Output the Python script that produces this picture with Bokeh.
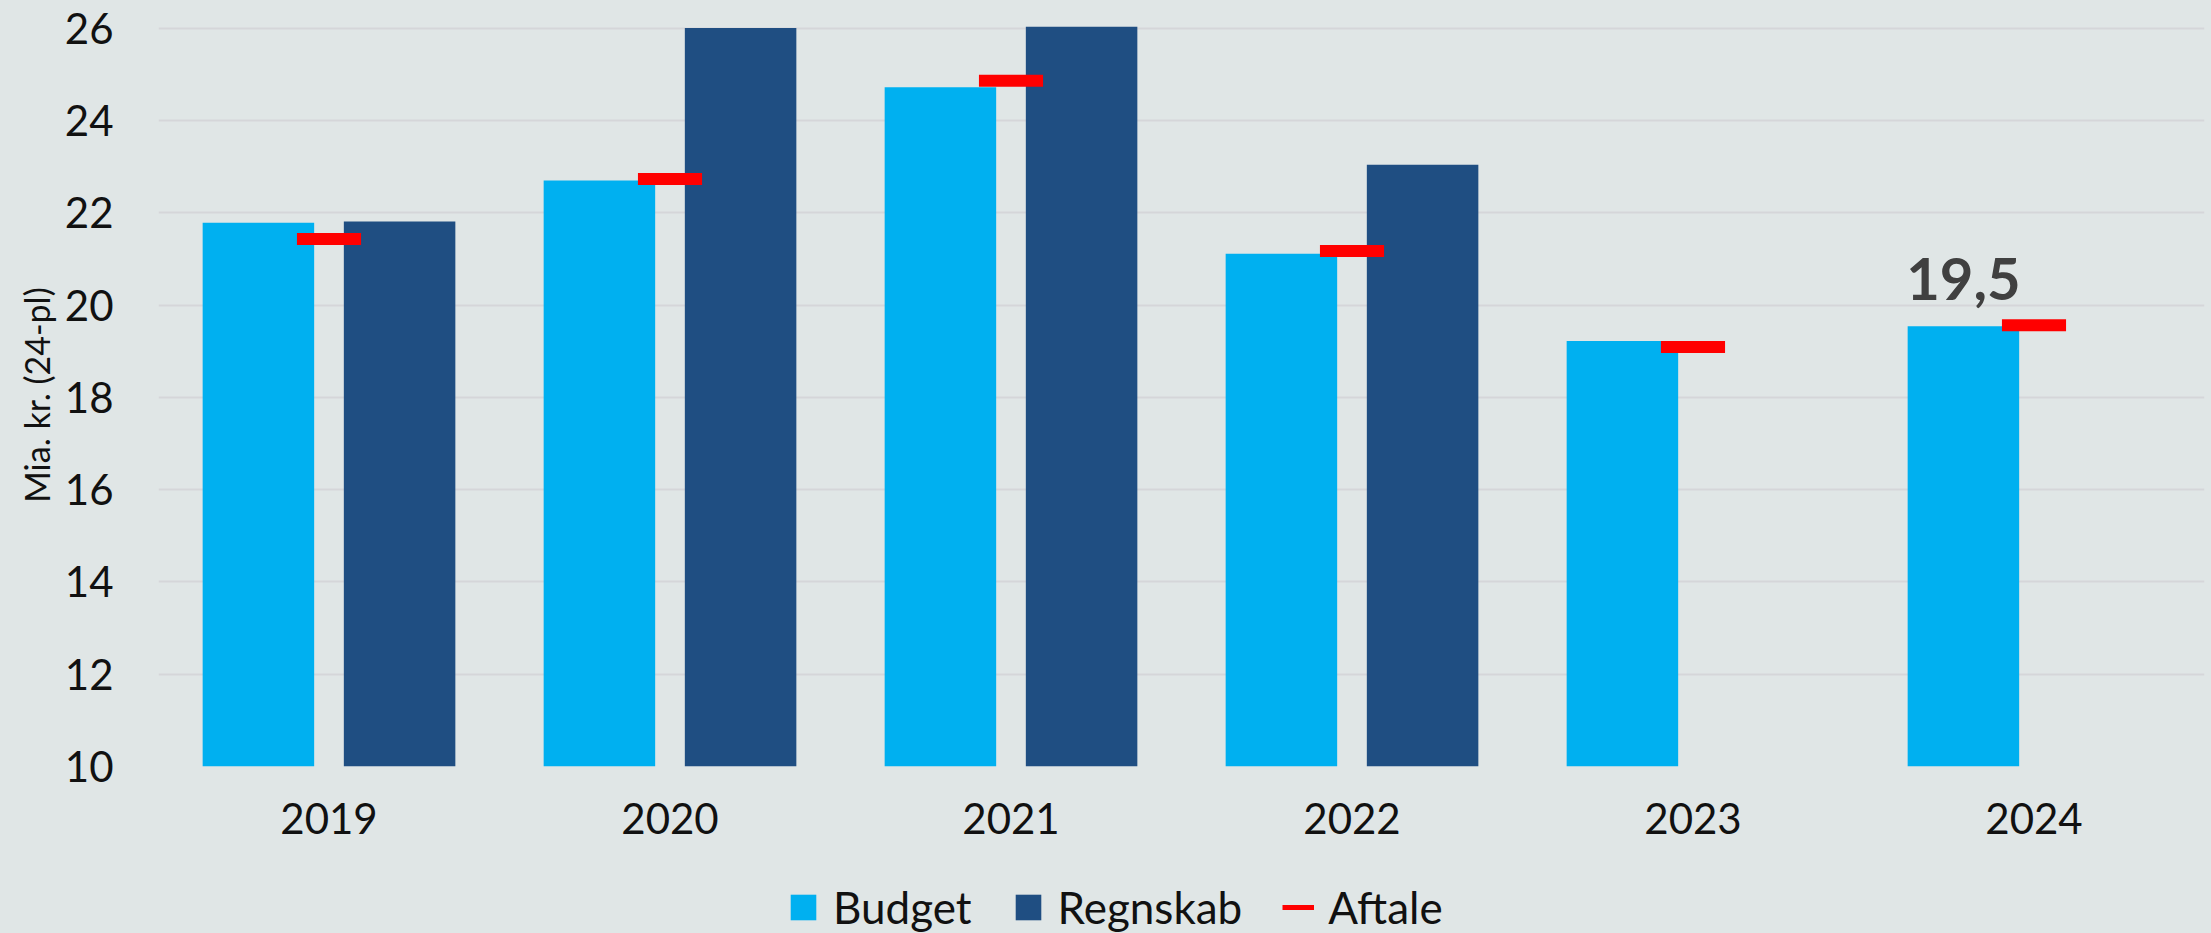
import math
from bokeh.plotting import figure
from bokeh.layouts import column
from bokeh.models import (ColumnDataSource, FactorRange, Range1d, FixedTicker,
                          Legend, LegendItem)
from bokeh.transform import dodge
from bokeh.core.properties import value
from bokeh.embed import file_html
from bokeh.resources import INLINE

# ---- data ----
years = ["2019", "2020", "2021", "2022", "2023", "2024"]
budget = [21.78, 22.70, 24.72, 21.11, 19.22, 19.54]
regnskab = [21.81, 26.00, 26.03, 23.04, math.nan, math.nan]
aftale = [21.43, 22.73, 24.86, 21.17, 19.09, 19.56]
y_ticks = [10, 12, 14, 16, 18, 20, 22, 24, 26]
y_label = "Mia. kr. (24-pl)"
series_names = ["Budget", "Regnskab", "Aftale"]

BG = "#E0E6E6"
C_BUDGET = "#00B0F0"
C_REGN = "#1F4E82"
C_AFT = "#FF0000"
FONT = "Lato"

src = ColumnDataSource(dict(year=years, budget=budget, regnskab=regnskab, aftale=aftale))
lbl_src = ColumnDataSource(dict(year=[years[-1]], value=[budget[-1]],
                                text=[f"{budget[-1]:.1f}".replace(".", ",")]))

W = 2211
H_MAIN = 850
H_LEG = 83

p = figure(x_range=FactorRange(*years), y_range=Range1d(y_ticks[0], 26.1),
           width=W, height=H_MAIN, output_backend="svg", toolbar_location=None,
           min_border_left=158, min_border_right=7, min_border_top=23, min_border_bottom=84)
p.background_fill_color = BG
p.border_fill_color = BG
p.outline_line_color = None

# grid
p.xgrid.grid_line_color = None
p.ygrid.grid_line_color = "#D5D6D9"
p.ygrid.grid_line_width = 2
p.yaxis.ticker = FixedTicker(ticks=y_ticks)

# axes
for ax in (p.xaxis, p.yaxis):
    ax.axis_line_color = None
    ax.major_tick_line_color = None
    ax.minor_tick_line_color = None
    ax.major_label_text_font = FONT
    ax.major_label_text_font_size = "42px"
    ax.major_label_text_color = "#111111"
p.yaxis.major_label_standoff = 39
p.xaxis.major_label_standoff = 30
p.yaxis.axis_label = y_label
p.yaxis.axis_label_text_font = FONT
p.yaxis.axis_label_text_font_size = "34px"
p.yaxis.axis_label_text_font_style = "normal"
p.yaxis.axis_label_text_color = "#111111"
p.yaxis.axis_label_standoff = 5

bw = 0.327
off = 0.207
p.vbar(x=dodge("year", -off, range=p.x_range), top="budget", bottom=y_ticks[0],
       width=bw, source=src, fill_color=C_BUDGET, line_color=None)
p.vbar(x=dodge("year", off, range=p.x_range), top="regnskab", bottom=y_ticks[0],
       width=bw, source=src, fill_color=C_REGN, line_color=None)
p.rect(x="year", y="aftale", width=0.188, height=12, height_units="screen",
       source=src, fill_color=C_AFT, line_color=None)

p.text(x=dodge("year", -off, range=p.x_range), y="value", text="text", source=lbl_src,
       y_offset=-47, text_align="center", text_baseline="alphabetic",
       text_font=value(FONT), text_font_style="bold", text_font_size="58px",
       text_color="#404040")

# ---- legend strip ----
lf = figure(width=W, height=H_LEG, output_backend="svg", toolbar_location=None,
            x_axis_type=None, y_axis_type=None, min_border=0,
            x_range=Range1d(0, 1), y_range=Range1d(0, 1))
lf.background_fill_color = None
lf.border_fill_color = None
lf.outline_line_color = None
lf.xgrid.grid_line_color = None
lf.ygrid.grid_line_color = None
hidden = ColumnDataSource(dict(x=[-10, -9], y=[-10, -10]))
l_b = lf.vbar(x="x", top="y", width=0.1, source=hidden, fill_color=C_BUDGET, line_color=None)
l_r = lf.vbar(x="x", top="y", width=0.1, source=hidden, fill_color=C_REGN, line_color=None)
l_a = lf.line(x="x", y="y", source=hidden, line_color=C_AFT, line_width=5)

legend = Legend(items=[LegendItem(label=series_names[0], renderers=[l_b]),
                       LegendItem(label=series_names[1], renderers=[l_r]),
                       LegendItem(label=series_names[2], renderers=[l_a])],
                orientation="horizontal", location=(629, 0),
                glyph_width=32, glyph_height=32, label_standoff=14, spacing=40,
                padding=0, margin=0, border_line_color=None, background_fill_alpha=0,
                label_text_font=FONT, label_text_font_size="44px",
                label_text_color="#111111")
lf.add_layout(legend)

layout = column(p, lf, spacing=0)
html = file_html(layout, INLINE)
css = f"<style>html,body{{margin:0 !important;padding:0;background:{BG};overflow:hidden;}}</style>"
html = html.replace("</head>", css + "</head>", 1)
open("out.html", "w").write(html)
